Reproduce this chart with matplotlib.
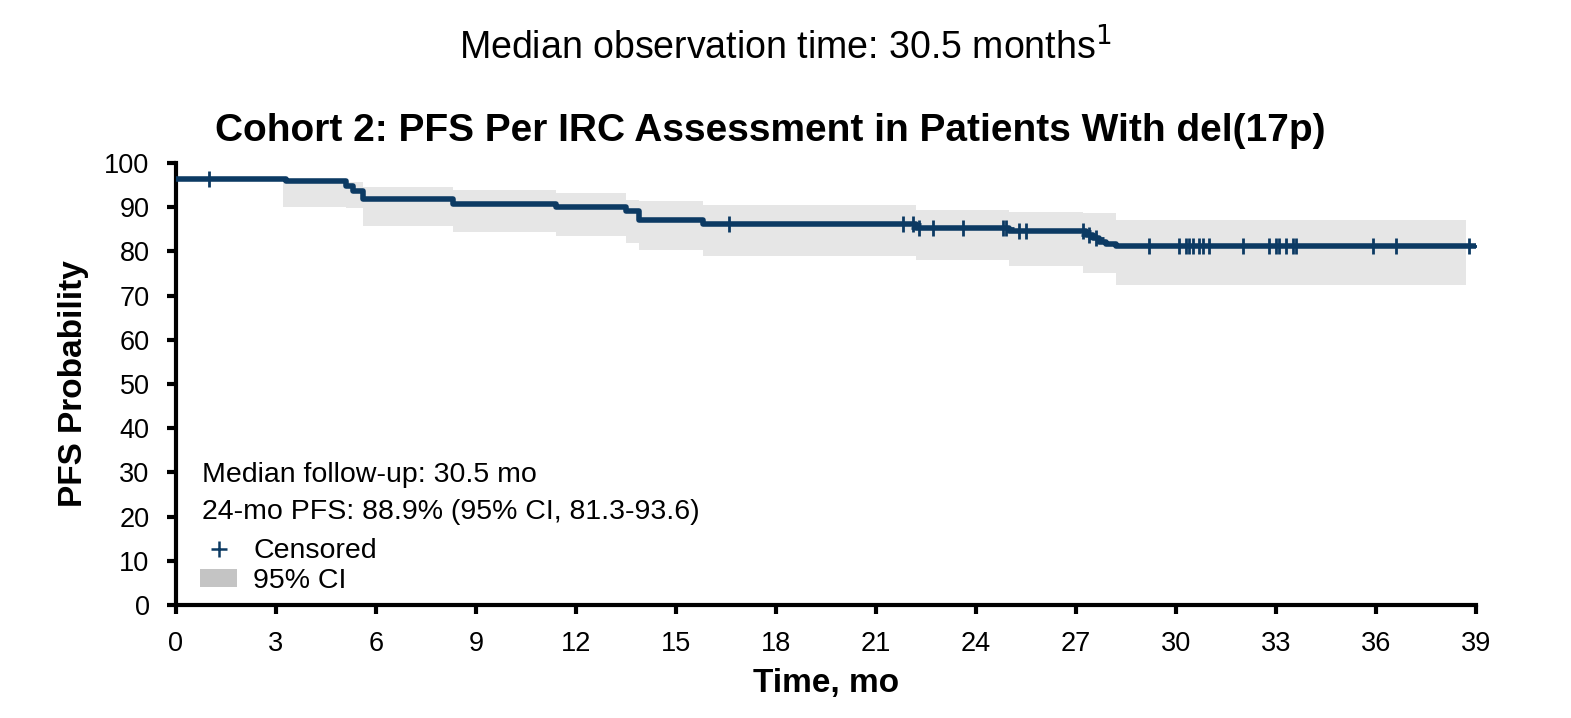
import numpy as np
import matplotlib
matplotlib.use("Agg")
import matplotlib.pyplot as plt
from matplotlib.lines import Line2D
from matplotlib.patches import Patch

plt.rcParams['font.family'] = ['Liberation Sans', 'DejaVu Sans']

# KM step data (months, PFS %)
event_times = [0, 3.3, 5.1, 5.3, 5.6, 8.3, 11.4, 13.5, 13.9, 15.8, 22.2, 25.0, 27.3, 27.5, 27.7, 27.9, 28.2, 39.0]
surv = [96.4, 95.9, 94.8, 93.7, 91.8, 90.7, 90.1, 89.1, 87.0, 86.2, 85.2, 84.7, 83.8, 83.0, 82.2, 81.7, 81.3, 81.3]

# 95% CI band
ci_times = [3.2, 5.1, 5.6, 8.3, 11.4, 13.5, 13.9, 15.8, 22.2, 25.0, 27.2, 28.2, 38.7]
ci_upper = [96.4, 95.6, 94.5, 94.0, 93.1, 91.6, 91.3, 90.5, 89.4, 89.0, 88.6, 87.2, 87.2]
ci_lower = [90.1, 89.8, 85.7, 84.4, 83.5, 81.9, 80.4, 79.0, 78.1, 76.6, 75.0, 72.5, 72.5]

# censored times
censor_times = [1.0, 16.6, 21.8, 22.1, 22.3, 22.7, 23.6, 24.8, 24.9, 25.3, 25.5, 27.2, 27.4, 27.6,
                29.2, 30.1, 30.3, 30.4, 30.5, 30.7, 30.8, 31.0, 32.0, 32.8, 33.0, 33.1, 33.3, 33.5,
                33.6, 35.9, 36.6, 38.8]

xticks = list(range(0, 40, 3))
yticks = list(range(0, 101, 10))

line_color = '#0c3a63'
band_color = '#e6e6e6'

fig = plt.figure(figsize=(15.71, 7.18), dpi=100)
ax = fig.add_axes([0.112, 0.1574, 0.8275, 0.6156])

ax.fill_between(ci_times, ci_lower, ci_upper, step='post', color=band_color, linewidth=0, zorder=1)
ax.step(event_times, surv, where='post', color=line_color, linewidth=4, zorder=3)

et = np.array(event_times)
sv = np.array(surv)
idx = np.searchsorted(et, np.array(censor_times), side='right') - 1
cy = sv[idx]
ax.plot(censor_times, cy, linestyle='none', marker='+', markersize=12, markeredgewidth=2,
        color=line_color, zorder=4)

ax.set_xlim(0, 39)
ax.set_ylim(0, 100)
ax.set_xticks(xticks)
ax.set_yticks(yticks)
ax.tick_params(axis='both', labelsize=19.5, width=3, length=6.5, direction='out', color='black')
ax.tick_params(axis='x', pad=12)
ax.tick_params(axis='y', pad=12.5)
for s in ['top', 'right']:
    ax.spines[s].set_visible(False)
for s in ['left', 'bottom']:
    ax.spines[s].set_linewidth(3)

ax.set_xlabel('Time, mo', fontsize=24, fontweight='bold', labelpad=8)
ax.set_ylabel('PFS Probability', fontsize=24, fontweight='bold', labelpad=11)

fig.text(0.5, 0.935, 'Median observation time: 30.5 months$^1$', ha='center', va='center', fontsize=27)
fig.text(0.49, 0.818, 'Cohort 2: PFS Per IRC Assessment in Patients With del(17p)', ha='center',
         va='center', fontsize=28, fontweight='bold')

ax.text(0.02, 0.295, 'Median follow-up: 30.5 mo', transform=ax.transAxes, fontsize=20.5, va='center')
ax.text(0.02, 0.211, '24-mo PFS: 88.9% (95% CI, 81.3-93.6)', transform=ax.transAxes, fontsize=20.5,
        va='center')

handles = [Line2D([], [], linestyle='none', marker='+', markersize=11, markeredgewidth=1.8, color=line_color),
           Patch(facecolor='#c4c4c4', edgecolor='none')]
ax.legend(handles, ['Censored', '95% CI'], loc='lower left', bbox_to_anchor=(0.01, 0.0),
          frameon=False, fontsize=20.5, handlelength=1.3, handleheight=0.6, handletextpad=0.55,
          labelspacing=0.12, borderaxespad=0)

fig.savefig('out.png', dpi=100)
